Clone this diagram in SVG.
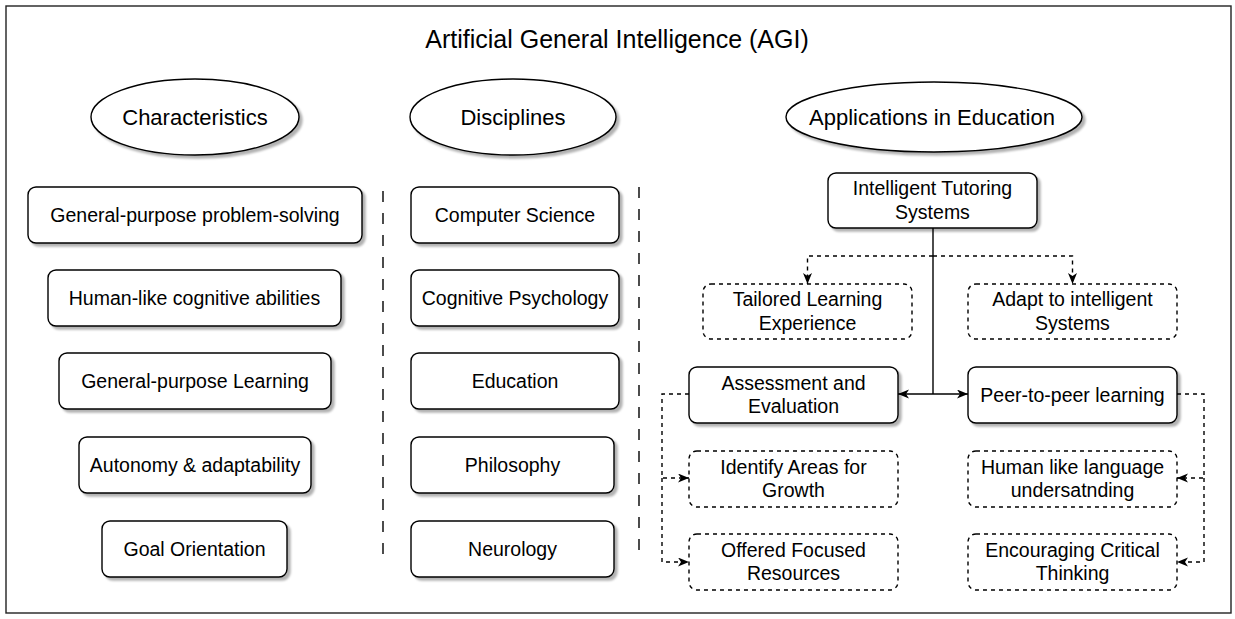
<svg xmlns="http://www.w3.org/2000/svg" width="1235" height="619" viewBox="0 0 1235 619">
<defs>
<filter id="sh" x="-10%" y="-10%" width="130%" height="140%">
<feDropShadow dx="3" dy="3" stdDeviation="1.2" flood-color="#000" flood-opacity="0.3"/>
</filter>
<marker id="ar" markerUnits="userSpaceOnUse" markerWidth="12" markerHeight="10" refX="11" refY="4.5" orient="auto">
<path d="M0,0 L11,4.5 L0,9 L3,4.5 z" fill="#000"/>
</marker>
<style>
text{font-family:"Liberation Sans",Arial,sans-serif;fill:#000;text-anchor:middle}
.t{font-size:19.5px}
.e{font-size:22px}
.box{fill:#fff;stroke:#000;stroke-width:1.4;filter:url(#sh)}
.dbox{fill:#fff;stroke:#000;stroke-width:1.4;stroke-dasharray:4 4}
.ell{fill:#fff;stroke:#000;stroke-width:1.4;filter:url(#sh)}
.sep{stroke:#000;stroke-width:1.4;stroke-dasharray:11 11;fill:none}
.c{stroke:#000;stroke-width:1.4;fill:none}
.cd{stroke:#000;stroke-width:1.4;fill:none;stroke-dasharray:4 4}
</style>
</defs>
<rect x="0" y="0" width="1235" height="619" fill="#fff"/>
<g id="frame"><rect x="6" y="6" width="1225" height="607" fill="none" stroke="#222" stroke-width="1.4"/></g>
<g id="title"><text x="617" y="48" style="font-size:25px">Artificial General Intelligence (AGI)</text></g>

<g id="characteristics"><ellipse class="ell" cx="195" cy="117" rx="104" ry="38"/><text class="e" x="195" y="124.7">Characteristics</text></g>
<g id="disciplines"><ellipse class="ell" cx="513" cy="117" rx="103" ry="38"/><text class="e" x="513" y="124.7">Disciplines</text></g>
<g id="applications"><ellipse class="ell" cx="934" cy="117" rx="148" ry="35"/><text class="e" x="932" y="124.7">Applications in Education</text></g>

<g id="separators">
<line class="sep" x1="383" y1="191" x2="383" y2="558"/>
<line class="sep" x1="639" y1="187" x2="639" y2="557"/>
</g>

<g id="c1"><rect class="box" x="28" y="187" width="334" height="56" rx="8"/><text class="t" x="195" y="221.8">General-purpose problem-solving</text></g>
<g id="c2"><rect class="box" x="48" y="270" width="293" height="56" rx="8"/><text class="t" x="194.5" y="304.8">Human-like cognitive abilities</text></g>
<g id="c3"><rect class="box" x="59" y="353" width="272" height="56" rx="8"/><text class="t" x="195" y="387.8">General-purpose Learning</text></g>
<g id="c4"><rect class="box" x="79" y="437" width="232" height="56" rx="8"/><text class="t" x="195" y="471.8">Autonomy &amp; adaptability</text></g>
<g id="c5"><rect class="box" x="102" y="521" width="185" height="56" rx="8"/><text class="t" x="194.5" y="555.8">Goal Orientation</text></g>

<g id="d1"><rect class="box" x="411" y="187" width="208" height="56" rx="8"/><text class="t" x="515" y="221.8">Computer Science</text></g>
<g id="d2"><rect class="box" x="411" y="270" width="208" height="56" rx="8"/><text class="t" x="515" y="304.8">Cognitive Psychology</text></g>
<g id="d3"><rect class="box" x="411" y="353" width="208" height="56" rx="8"/><text class="t" x="515" y="387.8">Education</text></g>
<g id="d4"><rect class="box" x="411" y="437" width="203" height="56" rx="8"/><text class="t" x="512.5" y="471.8">Philosophy</text></g>
<g id="d5"><rect class="box" x="411" y="521" width="203" height="56" rx="8"/><text class="t" x="512.5" y="555.8">Neurology</text></g>

<g id="connectors">
<path class="c" d="M933,228 V394"/>
<path class="c" d="M933,394 H898" marker-end="url(#ar)"/>
<path class="c" d="M933,394 H968" marker-end="url(#ar)"/>
<path class="cd" d="M933,256 H807.5 V284" marker-end="url(#ar)"/>
<path class="cd" d="M933,256 H1072.5 V284" marker-end="url(#ar)"/>
<path class="cd" d="M689,394 H662 V478 H689" marker-end="url(#ar)"/>
<path class="cd" d="M662,478 V562 H689" marker-end="url(#ar)"/>
<path class="cd" d="M1177,394 H1204 V478 H1177" marker-end="url(#ar)"/>
<path class="cd" d="M1204,478 V562 H1177" marker-end="url(#ar)"/>
</g>

<g id="its"><rect class="box" x="828" y="173" width="209" height="55" rx="8"/><text class="t" x="932.5" y="195.3">Intelligent Tutoring</text><text class="t" x="932.5" y="218.5">Systems</text></g>
<g id="tailored"><rect class="dbox" x="703" y="284" width="209" height="55" rx="8"/><text class="t" x="807.5" y="306.3">Tailored Learning</text><text class="t" x="807.5" y="329.5">Experience</text></g>
<g id="adapt"><rect class="dbox" x="968" y="284" width="209" height="55" rx="8"/><text class="t" x="1072.5" y="306.3">Adapt to intelligent</text><text class="t" x="1072.5" y="329.5">Systems</text></g>
<g id="assessment"><rect class="box" x="689" y="367" width="209" height="56" rx="8"/><text class="t" x="793.5" y="389.8">Assessment and</text><text class="t" x="793.5" y="413">Evaluation</text></g>
<g id="peer"><rect class="box" x="968" y="367" width="209" height="56" rx="8"/><text class="t" x="1072.5" y="401.8">Peer-to-peer learning</text></g>
<g id="identify"><rect class="dbox" x="689" y="451" width="209" height="56" rx="8"/><text class="t" x="793.5" y="473.8">Identify Areas for</text><text class="t" x="793.5" y="497">Growth</text></g>
<g id="offered"><rect class="dbox" x="689" y="534" width="209" height="56" rx="8"/><text class="t" x="793.5" y="556.8">Offered Focused</text><text class="t" x="793.5" y="580">Resources</text></g>
<g id="human"><rect class="dbox" x="968" y="451" width="209" height="56" rx="8"/><text class="t" x="1072.5" y="473.8">Human like language</text><text class="t" x="1072.5" y="497">undersatnding</text></g>
<g id="encouraging"><rect class="dbox" x="968" y="534" width="209" height="56" rx="8"/><text class="t" x="1072.5" y="556.8">Encouraging Critical</text><text class="t" x="1072.5" y="580">Thinking</text></g>
</svg>
